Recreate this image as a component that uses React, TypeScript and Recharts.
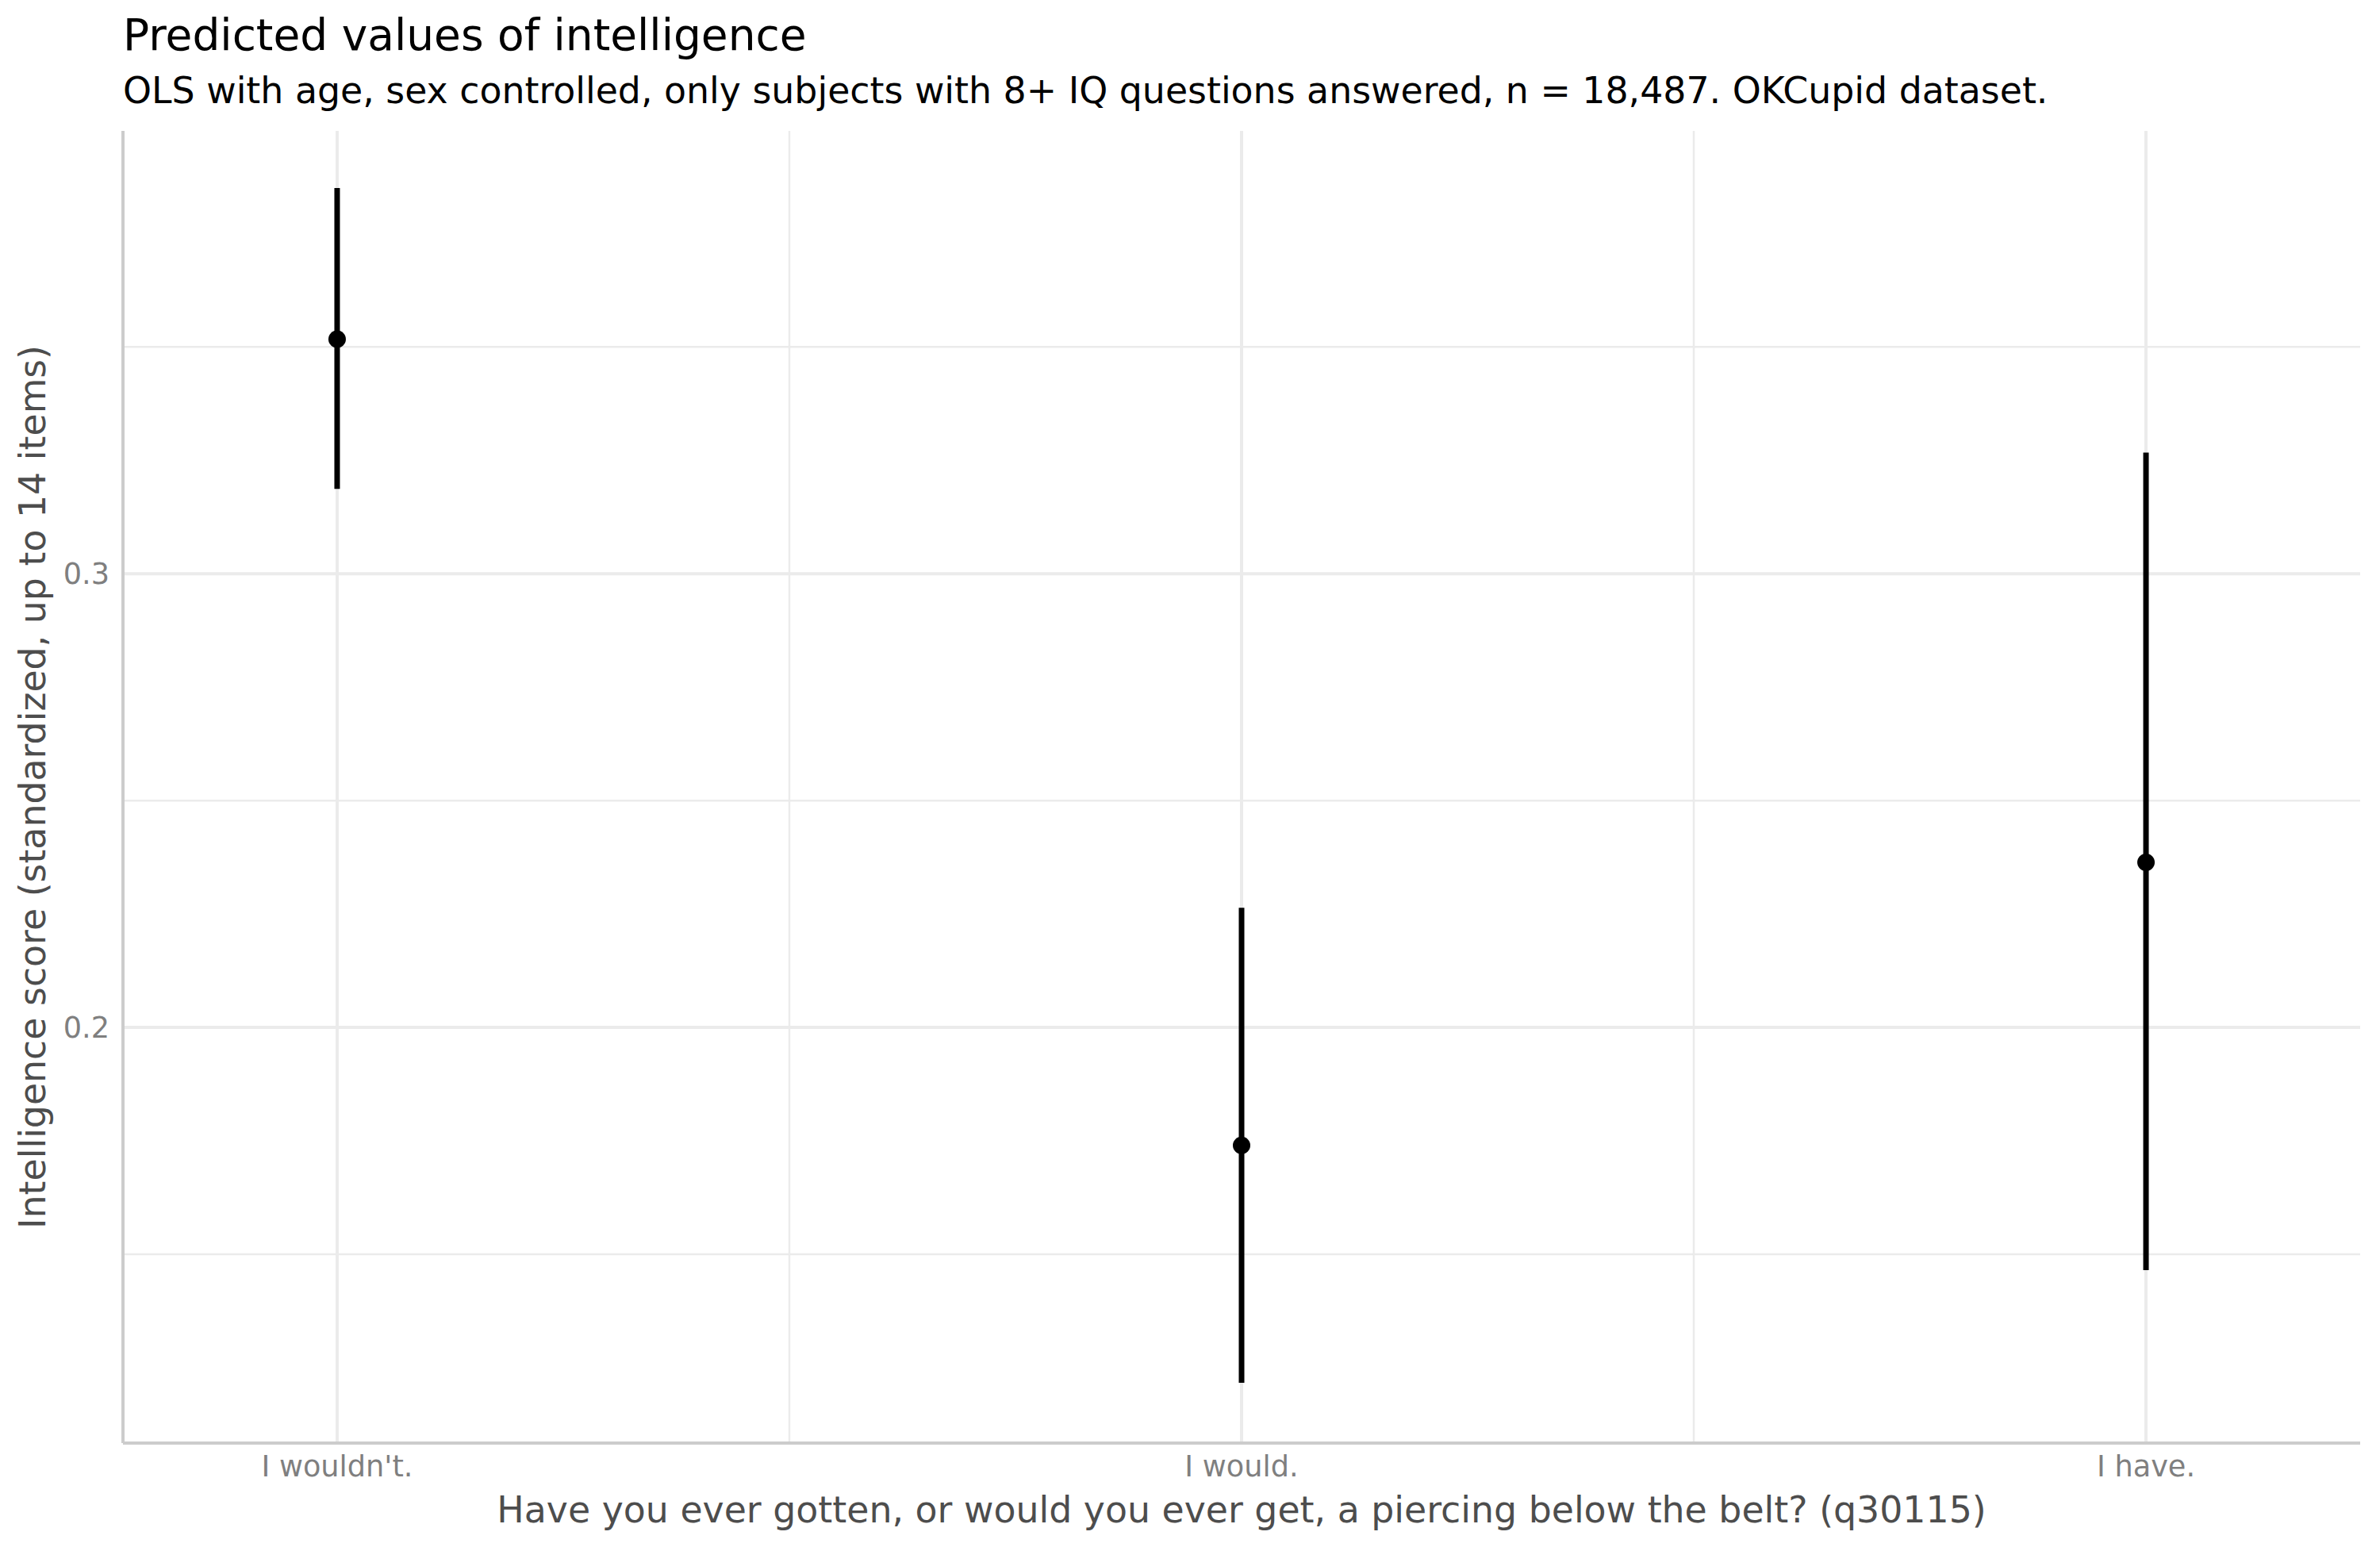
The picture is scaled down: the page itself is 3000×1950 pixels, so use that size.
import React from "react";
import {
  ComposedChart,
  Scatter,
  ErrorBar,
  XAxis,
  YAxis,
  ReferenceLine,
} from "recharts";

// Response categories (q30115) and model predictions with confidence limits
const categories = ["I wouldn't.", "I would.", "I have."];
const categoryPos = [1, 2, 3];
const predicted = [0.3517, 0.174, 0.2364];
const ciLow = [0.3187, 0.1217, 0.1465];
const ciHigh = [0.385, 0.2264, 0.3267];

const yTicks = [0.2, 0.3];
const yMinor = [0.15, 0.25, 0.35];
const xMinor = [1.5, 2.5];

const W = 3000;
const H = 1950;
const FONT = "'DejaVu Sans', sans-serif";

const rows = categoryPos.map((x, i) => ({
  x,
  y: predicted[i],
  err: [predicted[i] - ciLow[i], ciHigh[i] - predicted[i]],
}));

const XTick = (props: any) => {
  const { x, y, payload } = props;
  const idx = categoryPos.indexOf(payload.value);
  return (
    <text
      x={x}
      y={y + 34}
      textAnchor="middle"
      fontFamily={FONT}
      fontSize={36.7}
      fill="#7F7F7F"
    >
      {idx >= 0 ? categories[idx] : ""}
    </text>
  );
};

const YTick = (props: any) => {
  const { x, y, payload } = props;
  return (
    <text
      x={x - 11}
      y={y + 13}
      textAnchor="end"
      fontFamily={FONT}
      fontSize={36.7}
      fill="#7F7F7F"
    >
      {Number(payload.value).toFixed(1)}
    </text>
  );
};

const Dot = (props: any) => (
  <circle cx={props.cx} cy={props.cy} r={11} fill="#000000" />
);

export default function App() {
  return (
    <div
      style={{
        position: "absolute",
        left: 0,
        top: 0,
        width: W,
        height: H,
        background: "#ffffff",
      }}
    >
      <ComposedChart
        width={W}
        height={H}
        data={rows}
        margin={{ top: 165, right: 25, bottom: 71, left: 55 }}
      >
        <XAxis
          type="number"
          dataKey="x"
          domain={[1 - 0.2368, 3 + 0.2368]}
          ticks={categoryPos}
          allowDataOverflow
          axisLine={false}
          tickLine={false}
          tick={<XTick />}
          height={60}
        />
        <YAxis
          type="number"
          dataKey="y"
          domain={[0.1084, 0.3976]}
          ticks={yTicks}
          allowDataOverflow
          axisLine={false}
          tickLine={false}
          tick={<YTick />}
          tickMargin={0}
          width={100}
        />
        {yMinor.map((v) => (
          <ReferenceLine key={"ym" + v} y={v} stroke="#EBEBEB" strokeWidth={2.5} />
        ))}
        {xMinor.map((v) => (
          <ReferenceLine key={"xm" + v} x={v} stroke="#EBEBEB" strokeWidth={2.5} />
        ))}
        {yTicks.map((v) => (
          <ReferenceLine key={"y" + v} y={v} stroke="#EBEBEB" strokeWidth={4} />
        ))}
        {categoryPos.map((v) => (
          <ReferenceLine key={"x" + v} x={v} stroke="#EBEBEB" strokeWidth={4} />
        ))}
        <ReferenceLine x={1 - 0.2368} stroke="#CCCCCC" strokeWidth={4} />
        <ReferenceLine y={0.1084} stroke="#CCCCCC" strokeWidth={4} />
        <Scatter dataKey="y" fill="#000000" shape={<Dot />} isAnimationActive={false}>
          <ErrorBar
            dataKey="err"
            direction="y"
            width={0}
            stroke="#000000"
            strokeWidth={7}
            isAnimationActive={false}
          />
        </Scatter>
      </ComposedChart>
      <svg
        width={W}
        height={H}
        style={{ position: "absolute", left: 0, top: 0, pointerEvents: "none" }}
      >
        <text x={155} y={63} fontFamily={FONT} fontSize={55} fill="#000000">
          Predicted values of intelligence
        </text>
        <text x={155} y={130} fontFamily={FONT} fontSize={45.8} fill="#000000">
          OLS with age, sex controlled, only subjects with 8+ IQ questions answered, n = 18,487. OKCupid dataset.
        </text>
        <text
          x={1565}
          y={1919}
          textAnchor="middle"
          fontFamily={FONT}
          fontSize={45.8}
          fill="#4D4D4D"
        >
          Have you ever gotten, or would you ever get, a piercing below the belt? (q30115)
        </text>
        <text
          transform="translate(57 992) rotate(-90)"
          textAnchor="middle"
          fontFamily={FONT}
          fontSize={45.8}
          fill="#4D4D4D"
        >
          Intelligence score (standardized, up to 14 items)
        </text>
      </svg>
    </div>
  );
}
